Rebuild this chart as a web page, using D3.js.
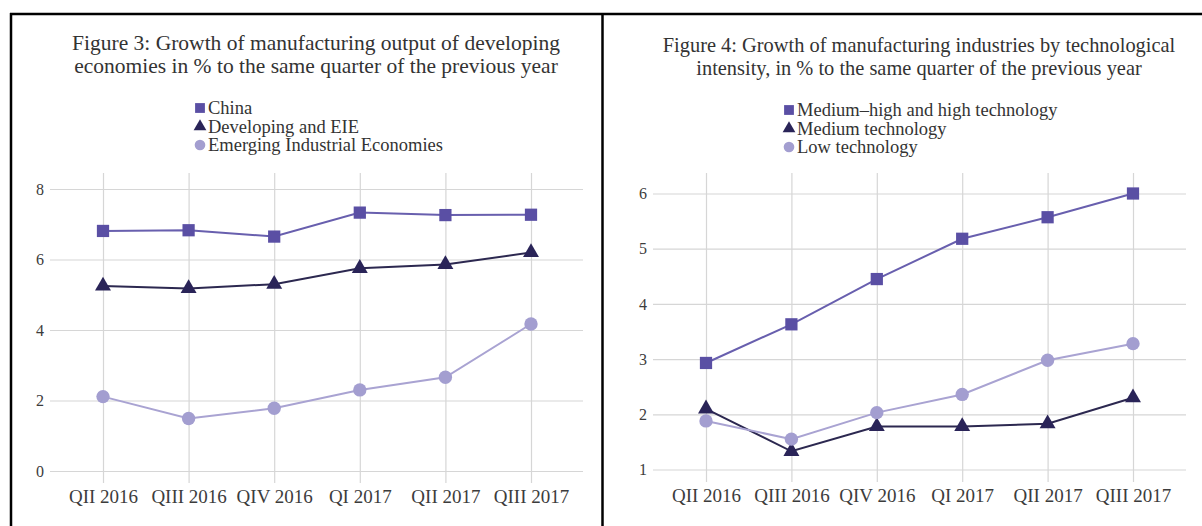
<!DOCTYPE html>
<html>
<head>
<meta charset="utf-8">
<script src="https://cdn.jsdelivr.net/npm/d3@7"></script>
<style>
  body { margin: 0; background: #fff; }
  svg text { font-family: "Liberation Serif", "Times New Roman", serif; fill: #3c3c3c; }
</style>
</head>
<body>
<svg id="chart" width="1202" height="526"></svg>
<script>
// quarters on the x axis (same for both figures)
var quarters = ["QII 2016", "QIII 2016", "QIV 2016", "QI 2017", "QII 2017", "QIII 2017"];

// Figure 3 series
var china = [6.81, 6.83, 6.65, 7.33, 7.26, 7.27];
var developingEIE = [5.25, 5.18, 5.3, 5.75, 5.86, 6.2];
var emergingIE = [2.11, 1.49, 1.78, 2.3, 2.66, 4.17];
var fig3Ticks = [0, 2, 4, 6, 8];

// Figure 4 series
var mediumHighTech = [2.93, 3.63, 4.45, 5.18, 5.57, 6.0];
var mediumTech = [2.1, 1.33, 1.78, 1.78, 1.83, 2.3];
var lowTech = [1.88, 1.55, 2.03, 2.36, 2.98, 3.28];
var fig4Ticks = [1, 2, 3, 4, 5, 6];

var colors = {
    square: { fill: "#5a4fa4", line: "#685fae" },
    triangle: { fill: "#2a2458", line: "#2c2850" },
    circle: { fill: "#a39ed0", line: "#a9a3d2" }
};

var svg = d3.select("#chart");

// outer frame
svg.append("line").attr("x1", 10).attr("x2", 1202).attr("y1", 14).attr("y2", 14)
    .attr("stroke", "#000").attr("stroke-width", 2.5);
svg.append("line").attr("x1", 11).attr("x2", 11).attr("y1", 13).attr("y2", 526)
    .attr("stroke", "#000").attr("stroke-width", 2.5);
svg.append("line").attr("x1", 602.5).attr("x2", 602.5).attr("y1", 13).attr("y2", 526)
    .attr("stroke", "#000").attr("stroke-width", 2.5);

function drawPanel(opt) {
    var g = svg.append("g");

    // title, one text per line
    opt.title.forEach(function (t, i) {
        g.append("text")
            .attr("text-anchor", "middle")
            .attr("font-size", opt.titleSize + "px")
            .style("fill", "#333")
            .attr("x", opt.titleX)
            .attr("y", opt.titleY + i * 23)
            .text(t);
    });

    var x = d3.scalePoint().domain(quarters).range(opt.xRange);
    var y = d3.scaleLinear().domain(opt.yDomain).range(opt.yRange);

    // y gridlines + labels
    var yAxis = g.append("g")
        .attr("transform", "translate(" + opt.gridX[0] + ",0)")
        .call(d3.axisLeft(y).tickValues(opt.ticks).tickFormat(d3.format("d"))
            .tickSize(-(opt.gridX[1] - opt.gridX[0])).tickPadding(6));
    yAxis.select(".domain").remove();
    yAxis.selectAll(".tick line").attr("stroke", "#d6d6d6").attr("stroke-width", 1.2);
    yAxis.selectAll(".tick text").attr("font-size", "16px").style("font-family", "'Liberation Serif', serif");

    // x gridlines + labels
    var xAxis = g.append("g")
        .attr("transform", "translate(0," + opt.gridY[1] + ")")
        .call(d3.axisBottom(x).tickSize(-(opt.gridY[1] - opt.gridY[0])).tickPadding(6.5));
    xAxis.select(".domain").remove();
    xAxis.selectAll(".tick line").attr("stroke", "#d6d6d6").attr("stroke-width", 1.2);
    xAxis.selectAll(".tick text").attr("font-size", "19px").style("font-family", "'Liberation Serif', serif");

    var line = d3.line()
        .x(function (d, i) { return x(quarters[i]); })
        .y(function (d) { return y(d); });

    opt.series.forEach(function (s) {
        var c = colors[s.shape];
        g.append("path")
            .datum(s.values)
            .attr("fill", "none")
            .attr("stroke", c.line)
            .attr("stroke-width", 2)
            .attr("d", line);
    });

    opt.series.forEach(function (s) {
        var c = colors[s.shape];
        g.selectAll(null)
            .data(s.values)
            .enter().append("path")
            .attr("transform", function (d, i) { return "translate(" + x(quarters[i]) + "," + y(d) + ")"; })
            .attr("d", symbolPath(s.shape, 1))
            .attr("fill", c.fill);
    });

    // legend
    opt.series.forEach(function (s, i) {
        var ly = opt.legendY + i * 18.5;
        g.append("path")
            .attr("transform", "translate(" + opt.legendX + "," + ly + ")")
            .attr("d", symbolPath(s.shape, 0.8))
            .attr("fill", colors[s.shape].fill);
        g.append("text")
            .attr("x", opt.legendX + 8)
            .attr("y", ly)
            .attr("dy", "0.35em")
            .attr("font-size", "18.5px")
            .style("fill", "#333")
            .text(s.name);
    });
}

function symbolPath(shape, k) {
    if (shape == "square") return d3.symbol().type(d3.symbolSquare).size(150 * k * k)();
    if (shape == "triangle") return d3.symbol().type(d3.symbolTriangle).size(110 * k * k)();
    return d3.symbol().type(d3.symbolCircle).size(140 * k * k)();
}

drawPanel({
    title: ["Figure 3: Growth of manufacturing output of developing",
            "economies in % to the same quarter of the previous year"],
    titleX: 316, titleY: 50, titleSize: 21.5,
    xRange: [103, 531], gridX: [50, 583], gridY: [173, 483],
    yDomain: [0, 8], yRange: [471, 189], ticks: fig3Ticks,
    legendX: 200, legendY: 108,
    series: [
        { name: "China", shape: "square", values: china },
        { name: "Developing and EIE", shape: "triangle", values: developingEIE },
        { name: "Emerging Industrial Economies", shape: "circle", values: emergingIE }
    ]
});

drawPanel({
    title: ["Figure 4: Growth of manufacturing industries by technological",
            "intensity, in % to the same quarter of the previous year"],
    titleX: 919, titleY: 52, titleSize: 20.4,
    xRange: [706, 1133], gridX: [653, 1186], gridY: [173, 482],
    yDomain: [1, 6], yRange: [469.5, 193.5], ticks: fig4Ticks,
    legendX: 789, legendY: 110,
    series: [
        { name: "Medium\u2013high and high technology", shape: "square", values: mediumHighTech },
        { name: "Medium technology", shape: "triangle", values: mediumTech },
        { name: "Low technology", shape: "circle", values: lowTech }
    ]
});
</script>
</body>
</html>
